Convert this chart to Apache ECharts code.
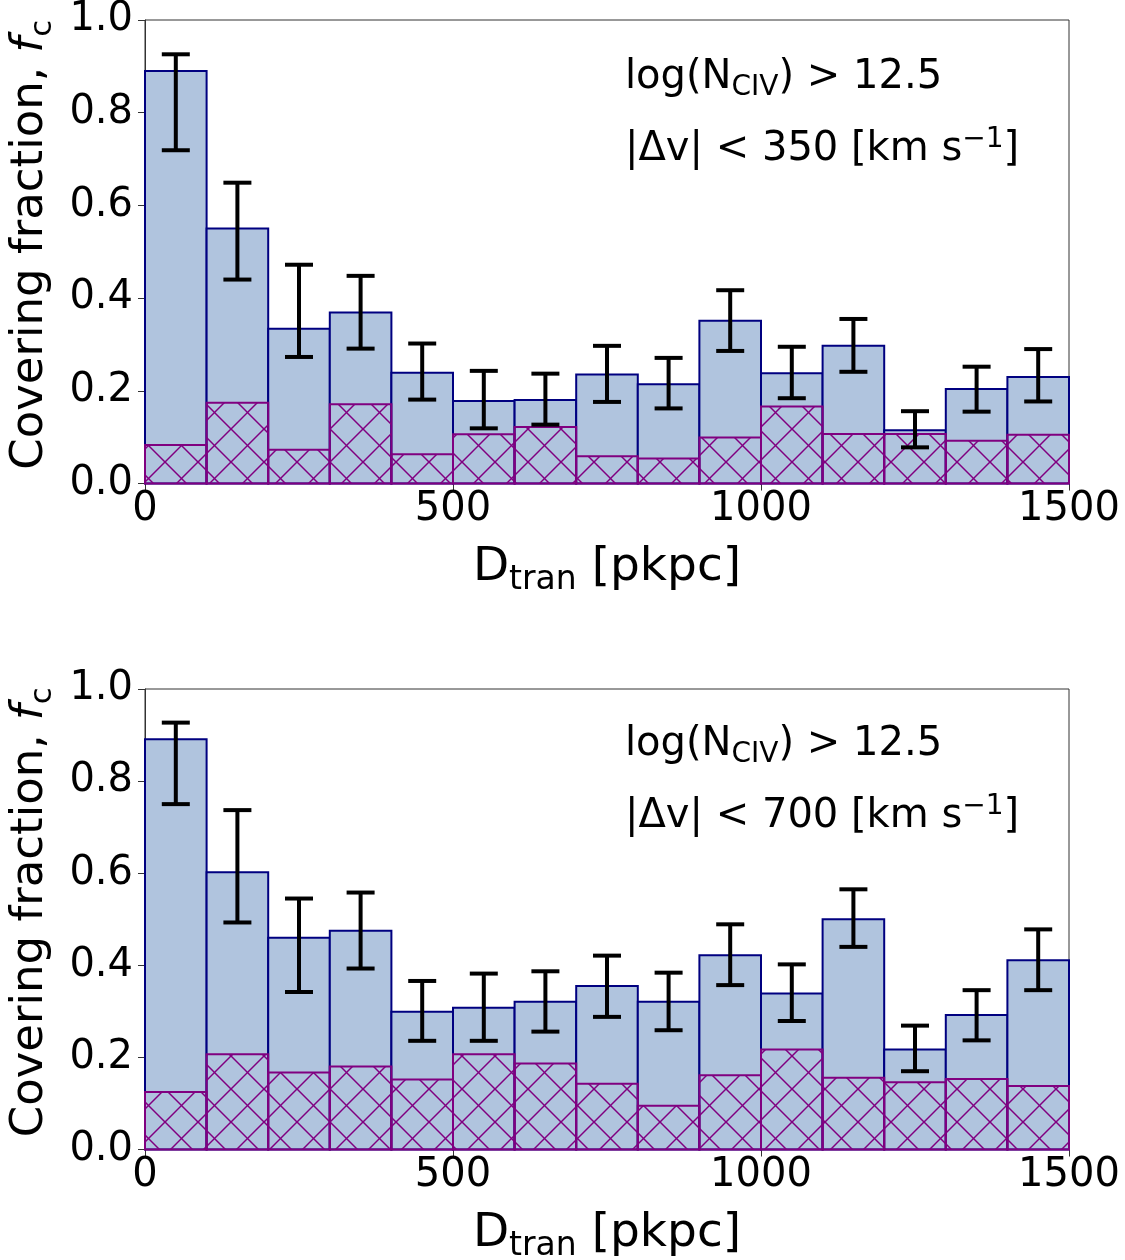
<!DOCTYPE html>
<html><head><meta charset="utf-8">
<script src="https://cdn.jsdelivr.net/npm/echarts@6/dist/echarts.min.js"></script>
<style>html,body{margin:0;padding:0;background:#fff}#c{width:1125px;height:1260px}</style>
</head><body><div id="c"></div>
<script>
// ---- data ----
const binLeft  = [0,100,200,300,400,500,600,700,800,900,1000,1100,1200,1300,1400];
const binRight = [100,200,300,400,500,600,700,800,900,1000,1100,1200,1300,1400,1500];
const xTickLabels = ['0','500','1000','1500'];
const yTickLabels = ['0.0','0.2','0.4','0.6','0.8','1.0'];

// panel 1: |dv| < 350 km/s
const fcTop     = [0.890,0.550,0.334,0.369,0.239,0.178,0.180,0.235,0.214,0.351,0.238,0.297,0.115,0.204,0.230];
const errHiTop  = [0.926,0.649,0.472,0.448,0.302,0.243,0.237,0.297,0.271,0.417,0.295,0.355,0.156,0.252,0.290];
const errLoTop  = [0.719,0.440,0.273,0.291,0.181,0.119,0.127,0.176,0.162,0.286,0.184,0.241,0.078,0.155,0.177];
const hatchTop  = [0.083,0.174,0.073,0.171,0.063,0.106,0.122,0.059,0.054,0.099,0.166,0.107,0.107,0.092,0.105];

// panel 2: |dv| < 700 km/s
const fcBot     = [0.891,0.602,0.460,0.475,0.299,0.308,0.321,0.355,0.321,0.422,0.339,0.500,0.217,0.292,0.411];
const errHiBot  = [0.927,0.737,0.545,0.558,0.366,0.382,0.387,0.421,0.384,0.489,0.402,0.565,0.269,0.346,0.478];
const errLoBot  = [0.750,0.493,0.342,0.393,0.236,0.236,0.256,0.288,0.259,0.357,0.279,0.440,0.170,0.237,0.346];
const hatchBot  = [0.125,0.207,0.167,0.180,0.152,0.207,0.187,0.143,0.095,0.161,0.217,0.156,0.146,0.153,0.138];

const annotLine1 = '{t|log(N}{sub|CIV}{t|) > 12.5}';
const annotLine2Top = '{t|\u007CΔv\u007C < 350 [km s}{sup|\u22121}{t|]}';
const annotLine2Bot = '{t|\u007CΔv\u007C < 700 [km s}{sup|\u22121}{t|]}';

// ---- styles ----
const FONT = 'DejaVu Sans';
const BLUE = '#b0c4de', NAVY = '#000080', PURPLE = '#800080';

function makeHatch() {
  const T = 33;
  const cv = document.createElement('canvas');
  cv.width = T; cv.height = T;
  const ctx = cv.getContext('2d');
  ctx.strokeStyle = PURPLE; ctx.lineWidth = 1.5;
  for (const dx of [-T, 0, T]) {
    ctx.beginPath(); ctx.moveTo(dx, 0); ctx.lineTo(dx + T, T); ctx.stroke();
    ctx.beginPath(); ctx.moveTo(dx, T); ctx.lineTo(dx + T, 0); ctx.stroke();
  }
  return cv;
}
const hatchPattern = {image: makeHatch(), repeat: 'repeat'};

function barRender(fill, stroke, lw) {
  return function (params, api) {
    const p0 = api.coord([api.value(0), 0]);
    const p1 = api.coord([api.value(1), api.value(2)]);
    return {type: 'rect',
      shape: {x: p0[0], y: p1[1], width: p1[0] - p0[0], height: p0[1] - p1[1]},
      style: {fill: fill, stroke: stroke, lineWidth: lw}};
  };
}
function errRender(params, api) {
  const pHi = api.coord([api.value(0), api.value(2)]);
  const pLo = api.coord([api.value(0), api.value(1)]);
  const cap = 14;
  const st = {stroke: '#000', lineWidth: 4};
  return {type: 'group', children: [
    {type: 'line', shape: {x1: pHi[0], y1: pHi[1], x2: pLo[0], y2: pLo[1]}, style: st},
    {type: 'line', shape: {x1: pHi[0] - cap, y1: pHi[1], x2: pHi[0] + cap, y2: pHi[1]}, style: st},
    {type: 'line', shape: {x1: pLo[0] - cap, y1: pLo[1], x2: pLo[0] + cap, y2: pLo[1]}, style: st}
  ]};
}

function barData(vals) { return binLeft.map((l, i) => [l, binRight[i], vals[i]]); }
function errData(lo, hi) { return binLeft.map((l, i) => [(l + binRight[i]) / 2, lo[i], hi[i]]); }

function rich(size) {
  return {
    n: {fontSize: size, fontFamily: FONT, color: '#000', lineHeight: Math.round(size * 1.24)},
    it: {fontSize: size, fontFamily: FONT, fontStyle: 'italic', color: '#000', lineHeight: Math.round(size * 1.24)},
    sub: {fontSize: Math.round(size * 0.7), fontFamily: FONT, color: '#000', lineHeight: Math.round(size * 0.66), verticalAlign: 'bottom'}
  };
}

function xAxisCfg(g) {
  return {type: 'value', gridIndex: g, min: 0, max: 1500, interval: 500,
    axisLine: {show: true, lineStyle: {color: '#333', width: 1}},
    axisTick: {show: true, inside: false, length: 7, lineStyle: {color: '#333', width: 1}},
    axisLabel: {fontSize: 40, fontFamily: FONT, color: '#000', margin: 6,
      formatter: v => xTickLabels[Math.round(v / 500)]},
    splitLine: {show: false},
    name: '{n|D}{sub|tran}{n| [pkpc]}', nameLocation: 'middle', nameGap: 55,
    nameTextStyle: {rich: rich(47)}
  };
}
function yAxisCfg(g) {
  return {type: 'value', gridIndex: g, min: 0, max: 1, interval: 0.2,
    axisLine: {show: true, lineStyle: {color: '#333', width: 1}},
    axisTick: {show: true, inside: false, length: 7, lineStyle: {color: '#333', width: 1}},
    axisLabel: {fontSize: 40, fontFamily: FONT, color: '#000', margin: 12,
      formatter: v => yTickLabels[Math.round(v * 5)]},
    splitLine: {show: false},
    name: '{n|Covering fraction, }{it|f}{sub|c}', nameLocation: 'middle', nameRotate: 90, nameGap: 84,
    nameTextStyle: {rich: rich(45), padding: [0, 0, 0, 14]}
  };
}

function panelSeries(g, fc, hatch, lo, hi) {
  return [
    {type: 'custom', xAxisIndex: g, yAxisIndex: g, renderItem: barRender(BLUE, NAVY, 2),
      data: barData(fc), encode: {x: [0, 1], y: 2}, silent: true, z: 2},
    {type: 'custom', xAxisIndex: g, yAxisIndex: g, renderItem: barRender(hatchPattern, PURPLE, 2),
      data: barData(hatch), encode: {x: [0, 1], y: 2}, silent: true, z: 3},
    {type: 'custom', xAxisIndex: g, yAxisIndex: g, renderItem: errRender,
      data: errData(lo, hi), encode: {x: 0, y: [1, 2]}, silent: true, z: 4}
  ];
}

const annotRich = {
  t: {fontSize: 40, fontFamily: FONT, color: '#000', lineHeight: 48},
  sub: {fontSize: 28, fontFamily: FONT, color: '#000', lineHeight: 28, verticalAlign: 'bottom'},
  sup: {fontSize: 28, fontFamily: FONT, color: '#000', lineHeight: 28, verticalAlign: 'top'}
};
function annot(x, y, txt) {
  return {type: 'text', x: x, y: y, z: 10,
    style: {text: txt, rich: annotRich, fill: '#000', verticalAlign: 'middle', align: 'left'}};
}

const chart = echarts.init(document.getElementById('c'), null, {renderer: 'canvas'});
chart.setOption({
  animation: false,
  backgroundColor: '#fff',
  grid: [
    {left: 145, top: 20, width: 924, height: 463.5, show: true, borderColor: '#333', borderWidth: 1,
      backgroundColor: 'transparent', containLabel: false, outerBoundsMode: 'none'},
    {left: 145, top: 689, width: 924, height: 460.5, show: true, borderColor: '#333', borderWidth: 1,
      backgroundColor: 'transparent', containLabel: false, outerBoundsMode: 'none'}
  ],
  xAxis: [xAxisCfg(0), xAxisCfg(1)],
  yAxis: [yAxisCfg(0), yAxisCfg(1)],
  series: [].concat(
    panelSeries(0, fcTop, hatchTop, errLoTop, errHiTop),
    panelSeries(1, fcBot, hatchBot, errLoBot, errHiBot)
  ),
  graphic: [
    annot(625, 78, annotLine1),
    annot(625, 150, annotLine2Top),
    annot(625, 745, annotLine1),
    annot(625, 817, annotLine2Bot)
  ]
});
</script>
</body></html>
